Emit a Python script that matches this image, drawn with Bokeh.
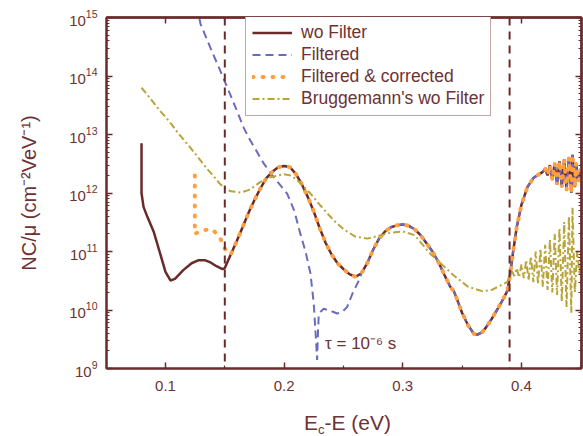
from bokeh.plotting import figure
from bokeh.models import (LogAxis, LinearAxis, FixedTicker, Span, Label, Legend,
                          LegendItem, Range1d, LogTickFormatter, Div)
from bokeh.layouts import column
from bokeh.embed import file_html
from bokeh.resources import INLINE

# ---------------- data ----------------
wo_x = [0.0798, 0.0798, 0.0815, 0.085, 0.090, 0.095, 0.100, 0.1042, 0.108, 0.115, 0.122,
        0.128, 0.133, 0.138, 0.143, 0.148, 0.150, 0.155, 0.160, 0.165, 0.170, 0.175,
        0.180, 0.185, 0.190, 0.195, 0.200, 0.205, 0.210, 0.215, 0.220, 0.225, 0.230,
        0.235, 0.240, 0.245, 0.250, 0.255, 0.260, 0.265, 0.270, 0.275, 0.280, 0.285,
        0.290, 0.295, 0.300, 0.305, 0.310, 0.315, 0.320, 0.325, 0.330, 0.335, 0.340,
        0.343, 0.345, 0.350, 0.355, 0.360, 0.363, 0.367, 0.370, 0.375, 0.380, 0.385,
        0.388, 0.390, 0.393, 0.396, 0.400, 0.405, 0.410, 0.415, 0.418, 0.420, 0.422,
        0.424, 0.426, 0.428, 0.430, 0.432, 0.434, 0.436, 0.438, 0.440, 0.442, 0.443,
        0.445, 0.446, 0.448, 0.450]
wo_y = [7.1e12, 1.0e12, 5.8e11, 3.8e11, 2.2e11, 1.0e11, 4.5e10, 3.2e10, 3.4e10, 4.8e10, 6.3e10,
        7.1e10, 7.1e10, 6.5e10, 5.6e10, 5.0e10, 5.2e10, 8.9e10, 1.5e11, 2.6e11, 4.6e11, 7.6e11,
        1.2e12, 1.8e12, 2.3e12, 2.75e12, 2.9e12, 2.75e12, 2.1e12, 1.4e12, 8.5e11, 4.8e11, 2.5e11,
        1.4e11, 8.9e10, 6.3e10, 5.0e10, 4.1e10, 3.7e10, 4.2e10, 6.3e10, 1.07e11, 1.66e11, 2.2e11,
        2.6e11, 2.8e11, 2.9e11, 2.75e11, 2.4e11, 1.9e11, 1.38e11, 1.0e11, 6.6e10, 4.0e10, 2.5e10,
        2.1e10, 1.66e10, 8.9e9, 5.5e9, 3.9e9, 3.8e9, 4.2e9, 5.0e9, 7.1e9, 1.05e10, 1.6e10,
        2.1e10, 3.5e10, 1.0e11, 2.6e11, 6.3e11, 1.26e12, 1.8e12, 2.1e12, 2.3e12, 2.6e12, 2.0e12,
        3.0e12, 1.66e12, 3.2e12, 1.4e12, 3.5e12, 1.26e12, 3.8e12, 1.12e12, 4.0e12, 1.0e12, 4.5e12,
        1.26e12, 3.2e12, 1.6e12, 2.5e12]

filt_x = [0.1265, 0.1295, 0.135, 0.140, 0.145, 0.150, 0.155, 0.160, 0.166, 0.170, 0.175,
          0.1828, 0.190, 0.195, 0.2025, 0.2085, 0.2137, 0.218, 0.2222, 0.225, 0.2265, 0.2278,
          0.2285, 0.2292, 0.2334, 0.240, 0.2447, 0.249, 0.253, 0.258, 0.2643]
filt_y = [1.6e15, 7.8e14, 4.2e14, 2.4e14, 1.4e14, 8.0e13, 4.6e13, 2.6e13, 1.3e13, 8.9e12, 6.0e12,
          3.2e12, 2.0e12, 1.5e12, 9.8e11, 5.0e11, 2.0e11, 1.0e11, 4.2e10, 1.26e10, 4.0e9, 1.4e9,
          4.0e9, 8.7e9, 1.05e10, 9.5e9, 8.7e9, 9.3e9, 1.12e10, 2.0e10, 3.6e10]
filt_join = 0.265   # from here on "Filtered" coincides with "wo Filter"

corr_x = [0.1247, 0.1247, 0.131, 0.1393, 0.1455, 0.150, 0.153]
corr_y = [2.0e12, 2.0e11, 2.3e11, 2.4e11, 1.8e11, 1.12e11, 9.5e10]
corr_join = 0.155   # from here on "Filtered & corrected" coincides with "wo Filter"

brug_x = [0.0798, 0.085, 0.090, 0.095, 0.100, 0.105, 0.110, 0.115, 0.120, 0.125, 0.130,
          0.135, 0.140, 0.145, 0.150, 0.155, 0.1632, 0.170, 0.175, 0.180, 0.1885, 0.195,
          0.200, 0.205, 0.210, 0.215, 0.2222, 0.230, 0.2418, 0.250, 0.260, 0.270, 0.280,
          0.290, 0.300, 0.310, 0.3233, 0.3429, 0.355, 0.3668, 0.375, 0.3879, 0.392, 0.394,
          0.396, 0.398, 0.400, 0.402, 0.404, 0.406, 0.408, 0.410, 0.412, 0.414, 0.416,
          0.418, 0.420, 0.422, 0.424, 0.426, 0.428, 0.430, 0.432, 0.434, 0.436, 0.438,
          0.440, 0.442, 0.443, 0.445, 0.447, 0.449, 0.450]
brug_y = [6.3e13, 4.7e13, 3.5e13, 2.6e13, 2.0e13, 1.5e13, 1.1e13, 8.3e12, 6.3e12, 4.7e12, 3.5e12,
          2.6e12, 2.0e12, 1.5e12, 1.2e12, 1.07e12, 1.02e12, 1.12e12, 1.3e12, 1.55e12, 1.86e12, 2.0e12,
          2.1e12, 2.0e12, 1.74e12, 1.38e12, 9.8e11, 6.3e11, 3.4e11, 2.4e11, 1.8e11, 1.66e11, 1.86e11,
          2.1e11, 2.2e11, 1.9e11, 9.1e10, 3.9e10, 2.5e10, 2.1e10, 2.2e10, 3.0e10, 4.6e10, 3.8e10,
          5.2e10, 3.6e10, 6.0e10, 3.5e10, 7.1e10, 3.2e10, 8.3e10, 3.0e10, 1.0e11, 2.75e10, 1.12e11,
          2.5e10, 1.3e11, 2.2e10, 1.6e11, 2.0e10, 2.0e11, 1.8e10, 2.5e11, 1.4e10, 3.2e11, 1.12e10,
          4.0e11, 8.9e9, 5.6e11, 2.0e10, 1.0e11, 4.0e10, 6.3e10]

vlines_x = [0.15, 0.39]
tau_text = "τ = 10⁻⁶ s"
tau_pos = (0.2345, 2.7e9)

x_ticks = [0.1, 0.2, 0.3, 0.4]
x_minor = [0.05, 0.15, 0.25, 0.35, 0.45]
y_ticks = [1e9, 1e10, 1e11, 1e12, 1e13, 1e14, 1e15]
y_minor = [m * 10.0 ** e for e in range(9, 15) for m in range(2, 10)]

# ---------------- derived series ----------------
filt_x_all = filt_x + [x for x in wo_x if x >= filt_join]
filt_y_all = filt_y + [y for x, y in zip(wo_x, wo_y) if x >= filt_join]
corr_x_all = corr_x + [x for x in wo_x if x >= corr_join]
corr_y_all = corr_y + [y for x, y in zip(wo_x, wo_y) if x >= corr_join]

MAROON = "#6b2a2a"
TEXT = "#6e3232"
BLUE = "#6b6bbd"
ORANGE = "#ff9f40"
OLIVE = "#b9a43a"
FONT = "Liberation Sans"

p = figure(width=583, height=406, x_range=Range1d(0.0503, 0.4506),
           y_range=Range1d(1e9, 1e15), y_axis_type="log",
           output_backend="svg", toolbar_location=None,
           min_border_left=106, min_border_right=2, min_border_top=17,
           min_border_bottom=38)
p.xgrid.visible = False
p.ygrid.visible = False
p.outline_line_color = MAROON
p.outline_line_width = 2
p.background_fill_color = "white"
p.border_fill_color = "white"

r_wo = p.line(wo_x, wo_y, line_color=MAROON, line_width=2.5)
r_filt = p.line(filt_x_all, filt_y_all, line_color=BLUE, line_width=2, line_dash="8 5")
r_corr = p.line(corr_x_all, corr_y_all, line_color=ORANGE, line_width=4,
                line_dash="1 9", line_cap="round")
r_brug = p.line(brug_x, brug_y, line_color=OLIVE, line_width=2, line_dash="7 3 2 3")

for xv in vlines_x:
    p.add_layout(Span(location=xv, dimension="height", line_color=MAROON,
                      line_width=2, line_dash="8 6"))


def style(ax):
    ax.axis_line_color = MAROON
    ax.axis_line_width = 2
    ax.major_tick_line_color = MAROON
    ax.major_tick_line_width = 1.5
    ax.minor_tick_line_color = MAROON
    ax.minor_tick_line_width = 1.2
    ax.major_tick_in = 6
    ax.major_tick_out = 0
    ax.minor_tick_in = 3
    ax.minor_tick_out = 0
    ax.major_label_text_color = TEXT
    ax.major_label_text_font = FONT
    ax.major_label_text_font_size = "15px"


xax = p.xaxis[0]
xax.ticker = FixedTicker(ticks=x_ticks, minor_ticks=x_minor)
style(xax)
xax.major_label_standoff = 12

yax = p.yaxis[0]
yax.ticker = FixedTicker(ticks=y_ticks, minor_ticks=y_minor)
yax.formatter = LogTickFormatter()
style(yax)
yax.major_label_standoff = 9
yax.axis_label = "NC/μ (cm⁻²VeV⁻¹)"
yax.axis_label_text_font = FONT
yax.axis_label_text_font_style = "normal"
yax.axis_label_text_font_size = "20px"
yax.axis_label_text_color = TEXT
yax.axis_label_standoff = 26

# mirrored tick marks on top and right: label-free axes that carry only minor ticks
for loc, cls, ticks, length in [("above", LinearAxis, x_ticks, 6), ("above", LinearAxis, x_minor, 3),
                                ("right", LogAxis, y_ticks, 6), ("right", LogAxis, y_minor, 3)]:
    ax = cls(ticker=FixedTicker(ticks=[], minor_ticks=ticks))
    style(ax)
    ax.minor_tick_in = length
    ax.minor_tick_line_width = 1.5 if length == 6 else 1.2
    p.add_layout(ax, loc)

p.add_layout(Label(x=tau_pos[0], y=tau_pos[1], text=tau_text, text_font=FONT,
                   text_font_size="17px", text_color=TEXT, text_baseline="middle"))

legend = Legend(items=[LegendItem(label="wo Filter", renderers=[r_wo]),
                       LegendItem(label="Filtered", renderers=[r_filt]),
                       LegendItem(label="Filtered & corrected", renderers=[r_corr]),
                       LegendItem(label="Bruggemann's wo Filter", renderers=[r_brug])],
                location=(139, 252))
legend.border_line_color = "#8a4a4a"
legend.border_line_width = 1
legend.background_fill_color = "white"
legend.background_fill_alpha = 1
legend.label_text_font = FONT
legend.label_text_font_size = "17.5px"
legend.label_text_color = TEXT
legend.glyph_width = 40
legend.glyph_height = 19
legend.label_height = 19
legend.spacing = 1
legend.padding = 6
legend.label_standoff = 9
legend.margin = 0
p.add_layout(legend)

xlabel = Div(text='E<span style="font-size:13px; vertical-align:-4px">c</span>-E (eV)',
             width=583, height=30,
             styles={"font-family": FONT, "font-size": "21px", "color": TEXT,
                     "padding-left": "299px", "line-height": "24px",
                     "background-color": "white", "white-space": "nowrap",
                     "box-sizing": "border-box", "overflow": "visible"})

layout = column(p, xlabel, spacing=0)
open("out.html", "w").write(file_html(layout, INLINE))
